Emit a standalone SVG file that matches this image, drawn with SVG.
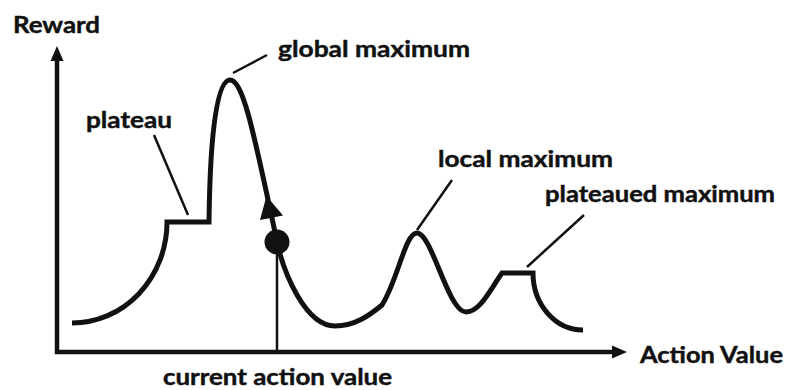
<svg xmlns="http://www.w3.org/2000/svg" width="786" height="390" viewBox="0 0 786 390">
  <style>
    .lbl { font-family: Lato, "Liberation Sans", sans-serif; font-weight: bold; font-size: 22.5px; fill: #111; stroke: #111; stroke-width: 0.45px; }
    .axis { stroke: #111; stroke-width: 4.5; fill: none; }
    .curve { stroke: #111; stroke-width: 5; fill: none; stroke-linejoin: miter; }
    .leader { stroke: #111; stroke-width: 2.5; fill: none; }
    .head { fill: #111; }
  </style>
  <rect width="786" height="390" fill="#fff"/>

  <!-- axes -->
  <g id="axes">
    <polyline class="axis" points="57,58 57,352 614,352"/>
    <polygon class="head" points="57,46 50.5,61 63.5,61"/>
    <polygon class="head" points="627,352 612,345.5 612,358.5"/>
    <text class="lbl" x="13" y="33" textLength="87" lengthAdjust="spacingAndGlyphs">Reward</text>
    <text class="lbl" x="640" y="363" textLength="143" lengthAdjust="spacingAndGlyphs">Action Value</text>
  </g>

  <!-- reward landscape -->
  <g id="landscape">
    <path class="curve" d="M72,323 A95,101 0 0 0 167,222 H209 C210,140 216,80 230,80 C244,80 255,140 278,246 C284,272 305,326 335,326 C355,326 370,315 382,305 C398,280 405,233 417,233 C432,233 448,312 466,312 C480,312 490,290 502,273 H533 A50,57 0 0 0 583,330"/>
  </g>

  <!-- current action marker -->
  <g id="current">
    <line class="leader" x1="277" y1="352" x2="277" y2="242" stroke-width="3"/>
    <circle class="head" cx="277" cy="242" r="12.5"/>
    <polygon class="head" points="266.5,196 260,220 283,215.5"/>
    <text class="lbl" x="163" y="385" textLength="229" lengthAdjust="spacingAndGlyphs">current action value</text>
  </g>

  <!-- callouts -->
  <g id="connectors">
    <line class="leader" x1="233" y1="73" x2="267" y2="55"/>
    <line class="leader" x1="154" y1="135" x2="188" y2="215"/>
    <line class="leader" x1="452" y1="180" x2="417" y2="230"/>
    <line class="leader" x1="584" y1="215" x2="527" y2="267"/>
  </g>
  <g id="global-max"><text class="lbl" x="278" y="57" textLength="192" lengthAdjust="spacingAndGlyphs">global maximum</text></g>
  <g id="plateau"><text class="lbl" x="86" y="128" textLength="86" lengthAdjust="spacingAndGlyphs">plateau</text></g>
  <g id="local-max"><text class="lbl" x="438" y="167" textLength="175" lengthAdjust="spacingAndGlyphs">local maximum</text></g>
  <g id="plateaued-max"><text class="lbl" x="545" y="202" textLength="230" lengthAdjust="spacingAndGlyphs">plateaued maximum</text></g>
</svg>
